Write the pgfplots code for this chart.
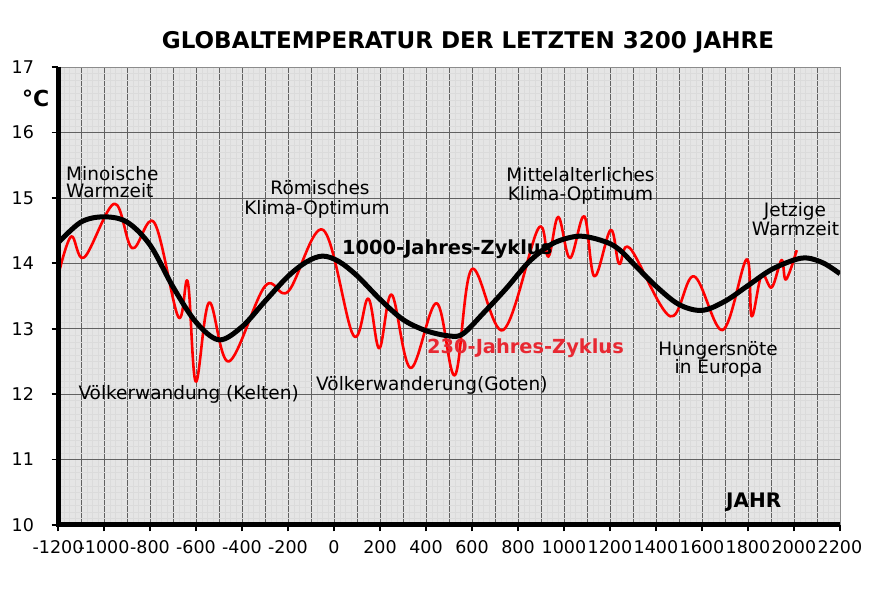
\documentclass[border=0pt]{standalone}
\usepackage{pgfplots}
\pgfplotsset{compat=1.18}
\usepackage{fontspec}
\setmainfont{DejaVu Sans}
\definecolor{lbl}{RGB}{232,40,50}
\newcommand{\lf}{\fontsize{18.5}{20}\selectfont}
\begin{document}
\begin{tikzpicture}[x=1pt,y=1pt]
\useasboundingbox (0,0) rectangle (883,594);
\begin{axis}[
  name=ax,
  at={(58pt,69pt)}, anchor=south west,
  scale only axis, width=782pt, height=458pt,
  xmin=-1200, xmax=2200, ymin=10, ymax=17,
  xtick={-1200,-1100,...,2200},
  xticklabels={-1200,,-1000,,-800,,-600,,-400,,-200,,0,,200,,400,,600,,800,,1000,,1200,,1400,,1600,,1800,,2000,,2200},
  ytick={10,11,...,17},
  minor x tick num=3,
  minor y tick num=9,
  xtick style={draw=none},
  extra x ticks={-1200,-1000,...,2200},
  extra x tick labels={},
  extra x tick style={grid=none, xtick style={draw=black, line width=1.6pt}},
  grid=both,
  major grid style={black!62, line width=0.7pt},
  minor grid style={black!14, line width=0.4pt},
  axis background/.style={fill=black!10},
  axis line style={black!45, line width=0.8pt},
  tick align=outside, tick pos=left,
  major tick length=6.5pt, minor tick length=0pt,
  major tick style={black, line width=1.6pt},
  /pgf/number format/assume math mode=true,
  /pgf/number format/1000 sep={},
  ticklabel style={font=\fontsize{17.5}{17.5}\selectfont},
  yticklabel style={xshift=-14pt},
  xticklabel style={yshift=-5pt},
  line join=round,
]
\addplot[red, line width=2.6pt, smooth, tension=0.6] coordinates {
(-1200,13.80) (-1143,14.41) (-1086,14.09) (-955,14.91) (-877,14.23)
(-781,14.62) (-677,13.18) (-636,13.72) (-601,12.19) (-543,13.40)
(-457,12.50) (-300,13.65) (-199,13.57) (-47,14.51) (84,12.90)
(149,13.46) (197,12.70) (251,13.52) (333,12.40) (446,13.39)
(526,12.29) (599,13.91) (736,12.98) (888,14.53) (932,14.10)
(975,14.71) (1026,14.08) (1088,14.72) (1132,13.80) (1203,14.51)
(1240,13.99) (1287,14.23) (1461,13.19) (1565,13.80) (1690,12.98)
(1794,14.06) (1816,13.19) (1859,13.82) (1903,13.63) (1946,14.05)
(1965,13.75) (2012,14.20)
};
\addplot[black, line width=5pt, smooth, tension=0.55] coordinates {
(-1200,14.31) (-1100,14.63) (-1000,14.71) (-900,14.63) (-800,14.28)
(-700,13.64) (-600,13.10) (-500,12.83) (-400,13.03) (-300,13.42)
(-200,13.80) (-120,14.02) (-50,14.11) (20,14.03) (100,13.81)
(200,13.45) (300,13.14) (400,12.97) (500,12.89) (560,12.92)
(650,13.24) (750,13.62) (850,14.03) (950,14.30) (1050,14.41)
(1120,14.39) (1200,14.30) (1250,14.18) (1300,14.00) (1400,13.65)
(1500,13.37) (1600,13.28) (1700,13.42) (1800,13.66) (1900,13.90)
(2000,14.05) (2060,14.08) (2130,14.00) (2200,13.84)
};
\end{axis}
\draw[line width=5pt] (ax.north west) -- (ax.south west) -- (ax.south east);
% title and labels
\node[anchor=base, inner sep=0pt, font=\fontsize{23}{23}\selectfont\bfseries] at (468,545) {GLOBALTEMPERATUR DER LETZTEN 3200 JAHRE};
\node[anchor=base west, inner sep=0pt, font=\fontsize{22}{22}\selectfont\bfseries] at (22,487.3) {°C};
\node[anchor=base west, inner sep=0pt, font=\lf] at (66,413.3) {Minoische};
\node[anchor=base west, inner sep=0pt, font=\lf] at (66,396.2) {Warmzeit};
\node[anchor=base, inner sep=0pt, font=\lf] at (320,399) {Römisches};
\node[anchor=base, inner sep=0pt, font=\lf] at (317,379) {Klima-Optimum};
\node[anchor=base, inner sep=0pt, font=\lf] at (580.5,412.3) {Mittelalterliches};
\node[anchor=base, inner sep=0pt, font=\lf] at (580.5,393.3) {Klima-Optimum};
\node[anchor=base, inner sep=0pt, font=\lf] at (795,377.3) {Jetzige};
\node[anchor=base, inner sep=0pt, font=\lf] at (795.5,358) {Warmzeit};
\node[anchor=base, inner sep=0pt, font=\lf] at (718,238) {Hungersnöte};
\node[anchor=base, inner sep=0pt, font=\lf] at (718.5,220) {in Europa};
\node[anchor=base west, inner sep=0pt, font=\lf] at (78.3,194) {Völkerwandung (Kelten)};
\node[anchor=base west, inner sep=0pt, font=\lf] at (316,203.3) {Völkerwanderung(Goten)};
\node[anchor=base west, inner sep=0pt, font=\fontsize{19.4}{20}\selectfont\bfseries] at (342,339) {1000-Jahres-Zyklus};
\node[anchor=base west, inner sep=0pt, text=lbl, font=\fontsize{19.4}{20}\selectfont\bfseries] at (427,240.7) {230-Jahres-Zyklus};
\node[anchor=base west, inner sep=0pt, font=\fontsize{20}{20}\selectfont\bfseries] at (726,86.3) {JAHR};
\end{tikzpicture}
\end{document}
